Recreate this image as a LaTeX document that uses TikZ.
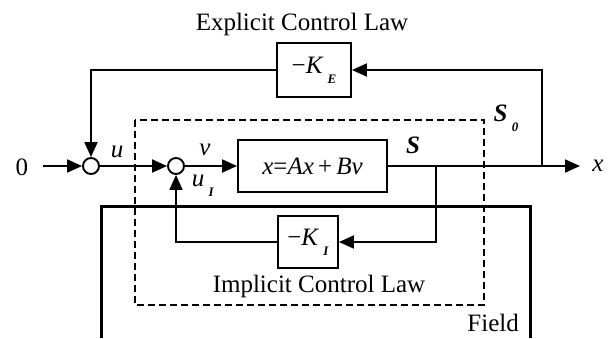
\documentclass[tikz,border=0pt]{standalone}
\usepackage{fontspec}
\setmainfont{Liberation Serif}
\usetikzlibrary{arrows.meta, positioning, calc}
\newcommand{\lowsub}[1]{\,\raisebox{-0.4em}{\fontsize{13}{13}\selectfont\textbf{\textit{#1}}}}

\begin{document}
\begin{tikzpicture}[
    x=1pt, y=-1pt,
    font=\fontsize{25}{28}\selectfont,
    block/.style={rectangle, draw, line width=1.9pt, inner sep=0pt, align=center, fill=white},
    sumnode/.style={circle, draw, line width=1.9pt, minimum size=16pt, inner sep=0pt, fill=white},
    arrow/.style={-{Triangle[length=15pt, width=13pt]}, line width=1.9pt},
    lbl/.style={inner sep=0pt}
]
\useasboundingbox (0,0) rectangle (612,338);

% Frames
\draw[line width=1.8pt, dash pattern=on 7pt off 4pt] (135,120) rectangle (484,305);
\draw[line width=3pt] (101,338) |- (530,206) -- (530,338);

% Nodes
\node[sumnode] (sum1) at (91,166) {};
\node[sumnode] (sum2) at (176,166) {};
\node[block, minimum width=149pt, minimum height=52pt] (plant) at (312.5,166) {\textit{x}=\textit{Ax}\,+\,\textit{Bv}};
\node[block, minimum width=74pt, minimum height=54pt] (KE) at (314,70) {−\textit{K}\lowsub{E}};
\node[block, minimum width=60pt, minimum height=52pt] (KI) at (308,242) {−\textit{K}\lowsub{I}};
\coordinate (in) at (43,166);
\coordinate (br1) at (436,166);
\coordinate (br2) at (542,166);
\coordinate (out) at (580,166);

% Labels
\node[lbl] (zero) at (22,167) {0};
\node[lbl] (ulbl) at (117,152) {\textit{u}};
\node[lbl] (vlbl) at (205,150) {\textit{v}};
\node[lbl] (uIlbl) at (203,186) {\textit{u}\lowsub{I}};
\node[lbl] (slbl) at (413,145) {\textbf{\textit{S}}};
\node[lbl] (s0lbl) at (506,118) {\textbf{\textit{S}}\lowsub{0}};
\node[lbl] (xlbl) at (598,166) {\textit{x}};
\node[lbl, anchor=base] (explicit) at (302,30) {Explicit Control Law};
\node[lbl, anchor=base] (implicit) at (319,292) {Implicit Control Law};
\node[lbl, anchor=base east] (field) at (519,331) {Field};

% Connections
\draw[arrow] (in) -- (sum1);
\draw[arrow] (sum1) -- (sum2);
\draw[arrow] (sum2) -- (plant);
\draw[arrow] (plant) -- (out);
\draw[arrow] (br2) |- (KE);
\draw[arrow] (KE) -| (sum1);
\draw[arrow] (br1) |- (KI);
\draw[arrow] (KI) -| (sum2);

\end{tikzpicture}
\end{document}
